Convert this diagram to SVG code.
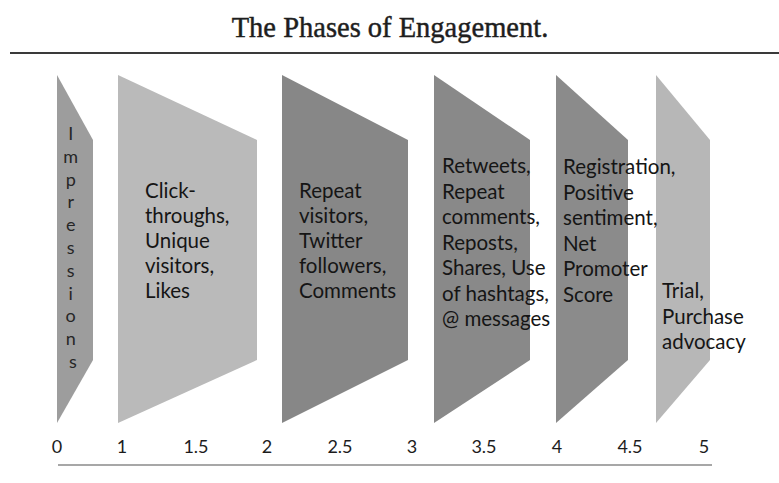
<svg xmlns="http://www.w3.org/2000/svg" width="779" height="483" viewBox="0 0 779 483">
  <style>
    .title { font-family: "Liberation Serif", "DejaVu Serif", serif; font-size: 28.5px; fill: #1e1e1e; stroke: #1e1e1e; stroke-width: 0.45px; }
    .lbl { font-family: Lato, "Open Sans", sans-serif; font-size: 20.5px; fill: #151515; }
    .vlbl { font-family: Lato, "Open Sans", sans-serif; font-size: 18px; fill: #262626; text-anchor: middle; }
    .tick { font-family: Lato, "Open Sans", sans-serif; font-size: 18px; fill: #1c1c1c; text-anchor: middle; }
  </style>

  <rect width="779" height="483" fill="#ffffff"/>

  <!-- heading and rule -->
  <text class="title" x="390" y="37" text-anchor="middle">The Phases of Engagement.</text>
  <line x1="10" y1="53" x2="779" y2="53" stroke="#3a3a3a" stroke-width="2.2"/>

  <!-- phase 0 -->
  <g id="phase-impressions">
    <polygon points="57,75 93,140 93,360 57,423" fill="#9d9d9d"/>
    <text class="vlbl">
      <tspan x="73" y="140">I</tspan>
      <tspan x="73" y="162.8">m</tspan>
      <tspan x="73" y="185.6">p</tspan>
      <tspan x="73" y="208.4">r</tspan>
      <tspan x="73" y="231.2">e</tspan>
      <tspan x="73" y="254">s</tspan>
      <tspan x="73" y="276.8">s</tspan>
      <tspan x="73" y="299.6">i</tspan>
      <tspan x="73" y="322.4">o</tspan>
      <tspan x="73" y="345.2">n</tspan>
      <tspan x="73" y="368">s</tspan>
    </text>
  </g>

  <!-- phase 1 -->
  <g id="phase-clicks">
    <polygon points="118,75 257,140 257,360 118,423" fill="#bababa"/>
    <text class="lbl">
      <tspan x="145" y="198">Click-</tspan>
      <tspan x="145" y="223">throughs,</tspan>
      <tspan x="145" y="248">Unique</tspan>
      <tspan x="145" y="273">visitors,</tspan>
      <tspan x="145" y="298">Likes</tspan>
    </text>
  </g>

  <!-- phase 2 -->
  <g id="phase-repeat">
    <polygon points="282,75 408,140 408,360 282,423" fill="#878787"/>
    <text class="lbl">
      <tspan x="299" y="198">Repeat</tspan>
      <tspan x="299" y="223">visitors,</tspan>
      <tspan x="299" y="248">Twitter</tspan>
      <tspan x="299" y="273">followers,</tspan>
      <tspan x="299" y="298">Comments</tspan>
    </text>
  </g>

  <!-- phase 3 -->
  <g id="phase-sharing">
    <polygon points="434,75 530,140 530,360 434,423" fill="#898989"/>
    <text class="lbl">
      <tspan x="442" y="173">Retweets,</tspan>
      <tspan x="442" y="198.5">Repeat</tspan>
      <tspan x="442" y="224">comments,</tspan>
      <tspan x="442" y="249.5">Reposts,</tspan>
      <tspan x="442" y="275">Shares, Use</tspan>
      <tspan x="442" y="300.5">of hashtags,</tspan>
      <tspan x="442" y="326">@ messages</tspan>
    </text>
  </g>

  <!-- phase 5 sits under the phase 4 label, which runs across it -->
  <g id="phase-purchase">
    <polygon points="656,75 710,140 710,360 656,423" fill="#b7b7b7"/>
    <text class="lbl">
      <tspan x="662" y="298">Trial,</tspan>
      <tspan x="662" y="323.5">Purchase</tspan>
      <tspan x="662" y="349">advocacy</tspan>
    </text>
  </g>

  <!-- phase 4 -->
  <g id="phase-registration">
    <polygon points="556,75 628,140 628,360 556,423" fill="#8b8b8b"/>
    <text class="lbl">
      <tspan x="563" y="174">Registration,</tspan>
      <tspan x="563" y="199.5">Positive</tspan>
      <tspan x="563" y="225">sentiment,</tspan>
      <tspan x="563" y="250.5">Net</tspan>
      <tspan x="563" y="276">Promoter</tspan>
      <tspan x="563" y="301.5">Score</tspan>
    </text>
  </g>

  <!-- scale -->
  <g id="scale">
    <text class="tick" x="57" y="453">0</text>
    <text class="tick" x="122" y="453">1</text>
    <text class="tick" x="196" y="453">1.5</text>
    <text class="tick" x="267" y="453">2</text>
    <text class="tick" x="340" y="453">2.5</text>
    <text class="tick" x="412" y="453">3</text>
    <text class="tick" x="484" y="453">3.5</text>
    <text class="tick" x="557" y="453">4</text>
    <text class="tick" x="630" y="453">4.5</text>
    <text class="tick" x="704" y="453">5</text>
    <line x1="58" y1="465" x2="712" y2="465" stroke="#8a8a8a" stroke-width="1.5"/>
  </g>
</svg>
